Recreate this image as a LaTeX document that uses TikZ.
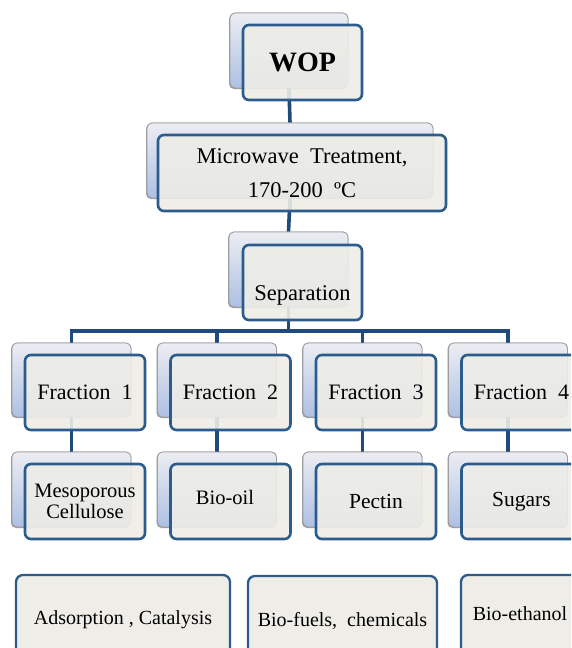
\documentclass[tikz,border=0pt]{standalone}
\usepackage{fontspec}
\setmainfont{Liberation Serif}
\usetikzlibrary{shadows}
\definecolor{frontfill}{HTML}{EEEDE7}
\definecolor{frontdraw}{HTML}{2B5C8C}
\definecolor{connc}{HTML}{1F4A7B}
\definecolor{backtop}{HTML}{ECEDF2}
\definecolor{backbot}{HTML}{AEC0E3}
\definecolor{backdraw}{HTML}{9A9DA3}
\tikzset{
  backbox/.style={rectangle, rounded corners=5pt, draw=backdraw, line width=0.8pt,
    top color=backtop, bottom color=backbot, inner sep=0pt,
    drop shadow={shadow xshift=-1pt, shadow yshift=-1pt, fill=black!50, opacity=0.45}},
  frontbox/.style={rectangle, rounded corners=6pt, draw=frontdraw, line width=2.6pt,
    fill=frontfill, fill opacity=0.9, text opacity=1, inner sep=0pt, align=center,
    font=\fontsize{22}{22}\selectfont},
  plainbox/.style={rectangle, rounded corners=7pt, draw=frontdraw, line width=2.3pt,
    fill=frontfill, inner sep=0pt, align=center, font=\fontsize{20}{20}\selectfont},
  conn/.style={draw=connc, line width=3.6pt},
  txt/.style={inner sep=0pt, align=center, font=\fontsize{22}{22}\selectfont}
}
\begin{document}
\begin{tikzpicture}[x=1pt,y=-1pt]
\useasboundingbox (0,0) rectangle (571,648);
\fill[white] (0,0) rectangle (571,648);
\clip (0,0) rectangle (571,648);

% back boxes
\node[backbox, minimum width=118pt, minimum height=75pt] (wopB) at (289,50.5) {};
\node[backbox, minimum width=286pt, minimum height=75pt] (mwB) at (290,160.5) {};
\node[backbox, minimum width=119pt, minimum height=75pt] (sepB) at (288.5,269.5) {};
\foreach \i in {1,2,3,4}{
  \node[backbox, minimum width=119pt, minimum height=74pt] (f\i B) at ({71.5+145.5*(\i-1)},380) {};
  \node[backbox, minimum width=119pt, minimum height=75pt] (p\i B) at ({71.5+145.5*(\i-1)},489.5) {};
}

% connectors
\coordinate (bus) at (288.5,331);
\draw[conn] (wopB.south) -- (mwB.north);
\draw[conn] (mwB.south) -- (sepB.north);
\draw[conn] (sepB.south) -- (bus);
\draw[conn] (f1B.north) |- (bus) -| (f4B.north);
\draw[conn] (bus) -| (f2B.north);
\draw[conn] (bus) -| (f3B.north);
\foreach \i in {1,2,3,4}{
  \draw[conn] (f\i B.south) -- (p\i B.north);
}

% redraw back boxes over the connector ends
\node[backbox, minimum width=118pt, minimum height=75pt] at (289,50.5) {};
\node[backbox, minimum width=286pt, minimum height=75pt] at (290,160.5) {};
\node[backbox, minimum width=119pt, minimum height=75pt] at (288.5,269.5) {};
\foreach \i in {1,2,3,4}{
  \node[backbox, minimum width=119pt, minimum height=74pt] at ({71.5+145.5*(\i-1)},380) {};
  \node[backbox, minimum width=119pt, minimum height=75pt] at ({71.5+145.5*(\i-1)},489.5) {};
}
% faint connector continuation under the front boxes
\draw[conn] (wopB.south) -- ++(0,12);
\draw[conn] (mwB.south) -- ++(0,13);
\draw[conn] (sepB.south) -- ++(0,13);
\foreach \i in {1,2,3,4}{ \draw[conn] (f\i B.south) -- ++(0,13); }

% front boxes
\node[frontbox, minimum width=119pt, minimum height=75pt, font=\fontsize{28}{28}\selectfont\bfseries] (wop) at (302.5,62.5) {WOP};
\node[frontbox, minimum width=288pt, minimum height=76pt, font=\fontsize{22.5}{34}\selectfont] (mw) at (302,173) {Microwave\ \ Treatment,\\170-200\ \ ºC};
\node[frontbox, minimum width=119pt, minimum height=75pt] (sep) at (302.5,282.5) {};
\node[txt, font=\fontsize{22.5}{22.5}\selectfont] (sepT) at (302.5,295) {Separation};

\node[frontbox, minimum width=120pt, minimum height=75pt] (f1) at (85,392.5) {Fraction\ \ 1};
\node[frontbox, minimum width=120pt, minimum height=75pt] (f2) at (230.5,392.5) {Fraction\ \ 2};
\node[frontbox, minimum width=120pt, minimum height=75pt] (f3) at (376,392.5) {Fraction\ \ 3};
\node[frontbox, minimum width=120pt, minimum height=75pt] (f4) at (521.5,392.5) {Fraction\ \ 4};

\node[frontbox, minimum width=120pt, minimum height=75pt, font=\fontsize{20.5}{20.5}\selectfont] (p1) at (85,501.5) {Mesoporous\\Cellulose};
\node[frontbox, minimum width=120pt, minimum height=75pt] (p2) at (230.5,501.5) {};
\node[txt, font=\fontsize{20.5}{20.5}\selectfont] (p2T) at (225,497) {Bio-oil};
\node[frontbox, minimum width=120pt, minimum height=75pt, font=\fontsize{21.5}{21.5}\selectfont] (p3) at (376,501.5) {Pectin};
\node[frontbox, minimum width=120pt, minimum height=75pt, font=\fontsize{21.5}{21.5}\selectfont] (p4) at (521.5,501.5) {Sugars};

% bottom row
\node[plainbox, minimum width=214pt, minimum height=90pt] (u1) at (123,620) {Adsorption , Catalysis};
\node[plainbox, minimum width=189pt, minimum height=89pt] (u2) at (342.5,620.5) {Bio-fuels,\ \ chemicals};
\node[plainbox, minimum width=118pt, minimum height=90pt] (u3) at (520,620) {};
\node[txt, font=\fontsize{20}{20}\selectfont] (u3T) at (520,614) {Bio-ethanol};
\end{tikzpicture}
\end{document}
